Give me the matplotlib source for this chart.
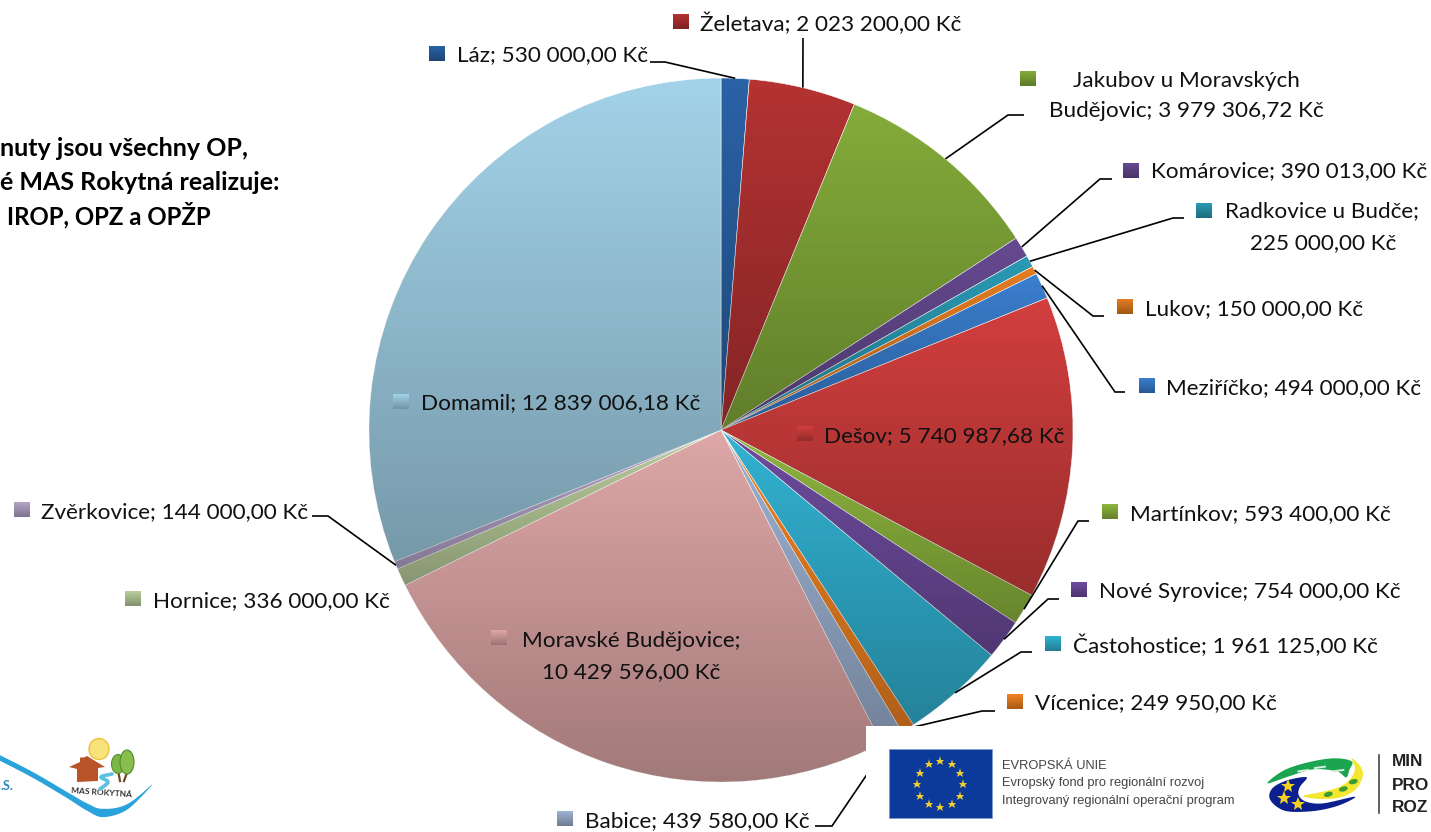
import numpy as np
import matplotlib
matplotlib.use("Agg")
import matplotlib.pyplot as plt
from matplotlib.patches import Rectangle, Circle, Polygon, Ellipse

categories = ["Láz", "Želetava", "Jakubov u Moravských Budějovic", "Komárovice",
              "Radkovice u Budče", "Lukov", "Meziříčko", "Dešov", "Martínkov",
              "Nové Syrovice", "Častohostice", "Vícenice", "Babice",
              "Moravské Budějovice", "Hornice", "Zvěrkovice", "Domamil"]
values = [530000.00, 2023200.00, 3979306.72, 390013.00, 225000.00, 150000.00,
          494000.00, 5740987.68, 593400.00, 754000.00, 1961125.00, 249950.00,
          439580.00, 10429596.00, 336000.00, 144000.00, 12839006.18]
colors = ["#2A62A6", "#B43232", "#84AC3A", "#664A90", "#2A9AB4", "#E47C22",
          "#3A7ECE", "#D23E3E", "#8EB63E", "#6E4C9E", "#32B2D2", "#F08222",
          "#9DB2D2", "#DEA6A6", "#BACE9C", "#B4A4CA", "#A2D2E8"]

W, H = 1431, 832
plt.rcParams['font.family'] = ['Lato', 'DejaVu Sans']
fig = plt.figure(figsize=(W / 100, H / 100), dpi=100, facecolor='white')
ax = fig.add_axes([0, 0, 1, 1])


def Y(y):
    return H - y


def money(v):
    return f"{v:,.2f}".replace(",", " ").replace(".", ",") + " Kč"


cx, cy, R = 721, 430, 352
wedges, _ = ax.pie(values, colors=colors, startangle=90, counterclock=False,
                   center=(cx, Y(cy)), radius=R, frame=True,
                   wedgeprops=dict(edgecolor='white', linewidth=0.4))
ax.set_xlim(0, W)
ax.set_ylim(0, H)
ax.axis('off')

grad = np.zeros((64, 1, 4))
grad[..., 3] = np.linspace(0.0, 0.27, 64)[:, None]
for w in wedges:
    b = w.get_path().get_extents(w.get_patch_transform())
    im = ax.imshow(grad, extent=(b.x0, b.x1, b.y0, b.y1), origin='upper',
                   aspect='auto', zorder=w.get_zorder() + 0.1, interpolation='bilinear')
    im.set_clip_path(w)

# label layout: key left, key top, [(text, x, y, ha)], leader (elbow x, elbow y, end x)
layout = {
    "Láz": (429, 46, [(None, 457, 54, 'left')], (665, 62, 650)),
    "Želetava": (673, 14, [(None, 700, 23, 'left')], (803, 38, 803)),
    "Jakubov u Moravských Budějovic": (1020, 71, [("Jakubov u Moravských", 1186, 80, 'center'),
                                                  ("Budějovic; {}", 1186, 110, 'center')], (1008, 115, 1024)),
    "Komárovice": (1123, 163, [(None, 1151, 170, 'left')], (1100, 179, 1112)),
    "Radkovice u Budče": (1196, 203, [("Radkovice u Budče;", 1225, 210, 'left'),
                                      ("{}", 1323, 242, 'center')], (1173, 218, 1184)),
    "Lukov": (1117, 299, [(None, 1145, 308, 'left')], (1093, 316, 1104)),
    "Meziříčko": (1139, 378, [(None, 1166, 387, 'left')], (1115, 392, 1125)),
    "Dešov": (797, 426, [(None, 824, 435, 'left')], None),
    "Martínkov": (1102, 504, [(None, 1130, 513, 'left')], (1078, 521, 1089)),
    "Nové Syrovice": (1071, 582, [(None, 1099, 591, 'left')], (1048, 599, 1059)),
    "Častohostice": (1045, 636, [(None, 1073, 645, 'left')], (1021, 652, 1032)),
    "Vícenice": (1007, 694, [(None, 1035, 702, 'left')], (982, 711, 995)),
    "Babice": (557, 811, [(None, 585, 820, 'left')], (832, 826, 815)),
    "Moravské Budějovice": (491, 630, [("Moravské Budějovice;", 631, 640, 'center'),
                                       ("{}", 631, 671, 'center')], None),
    "Hornice": (125, 591, [(None, 153, 600, 'left')], None),
    "Zvěrkovice": (14, 502, [(None, 41, 511, 'left')], (328, 516, 312)),
    "Domamil": (393, 394, [(None, 421, 402, 'left')], None),
}

FS = 16.2
key_grad = np.zeros((32, 1, 4))
key_grad[..., 3] = np.linspace(0.0, 0.3, 32)[:, None]
for name, val, col, w in zip(categories, values, colors, wedges):
    kx, ky, texts, leader = layout[name]
    ax.add_patch(Rectangle((kx, Y(ky + 15)), 16, 15, facecolor=col, edgecolor='none', zorder=6))
    ax.imshow(key_grad, extent=(kx, kx + 16, Y(ky + 15), Y(ky)), origin='upper',
              aspect='auto', zorder=6.1)
    for t, x, y, ha in texts:
        s = f"{name}; {money(val)}" if t is None else t.format(money(val))
        ax.text(x, Y(y + 1), s, ha=ha, va='center', fontsize=FS, color='#111111', zorder=7)
    if leader:
        mid = np.deg2rad((w.theta1 + w.theta2) / 2)
        sx, sy = cx + R * np.cos(mid), Y(cy) + R * np.sin(mid)
        ex, ey, endx = leader
        ax.plot([sx, ex, endx], [sy, Y(ey), Y(ey)], color='black', lw=1.2, zorder=5,
                solid_capstyle='butt', solid_joinstyle='miter')

ax.set_xlim(0, W)
ax.set_ylim(0, H)

# note at left, cut by the page edge
for s, x, y, fs in [("nuty jsou všechny OP,", 0, 148, 18.0), ("é MAS Rokytná realizuje:", 0, 182, 18.0),
                    ("IROP, OPZ a OPŽP", 7, 215, 17.3)]:
    ax.text(x, Y(y), s, ha='left', va='center', fontsize=fs, fontweight='bold', color='black')


def smooth(pts, closed=True, n=10):
    p = np.array(pts, float)
    m = len(p)
    out = []
    rng = range(m) if closed else range(m - 1)
    for i in rng:
        if closed:
            p0, p1, p2, p3 = p[(i - 1) % m], p[i], p[(i + 1) % m], p[(i + 2) % m]
        else:
            p0, p1, p2, p3 = p[max(i - 1, 0)], p[i], p[i + 1], p[min(i + 2, m - 1)]
        for t in np.linspace(0, 1, n, endpoint=False):
            out.append(0.5 * (2 * p1 + (p2 - p0) * t + (2 * p0 - 5 * p1 + 4 * p2 - p3) * t ** 2
                              + (3 * p1 - p0 - 3 * p2 + p3) * t ** 3))
    if not closed:
        out.append(p[-1])
    return np.array(out)


def poly(pts, color, z=10):
    ax.add_patch(Polygon([(x, Y(y)) for x, y in pts], closed=True, facecolor=color,
                         edgecolor='none', zorder=z))


def mmr(pts):
    return smooth([(1240 + x / 3, 740 + y / 3) for x, y in pts])


# logo panel, lower right
ax.add_patch(Rectangle((866, 0), W - 866, H - 726, facecolor='white', edgecolor='none', zorder=8))
ax.add_patch(Rectangle((889, Y(818)), 103, 69, facecolor='#0B3A9B', edgecolor='#7F9BD0', lw=0.6, zorder=9))
star_cx, star_cy, star_r = 940, 784, 23
for k in range(12):
    a = np.deg2rad(30 * k)
    ax.plot(star_cx + star_r * np.sin(a), Y(star_cy) + star_r * np.cos(a), marker='*',
            ms=6.5, color='#F0D030', mew=0, zorder=10, ls='none')
for s, y in [("EVROPSKÁ UNIE", 766), ("Evropský fond pro regionální rozvoj", 783),
             ("Integrovaný regionální operační program", 801)]:
    ax.text(1002, Y(y), s, fontsize=9.3, family='Liberation Sans', color='#444444',
            va='center', ha='left', zorder=10)

poly(mmr([(82, 130), (130, 92), (200, 68), (280, 55), (335, 64), (328, 90), (318, 112),
          (290, 94), (220, 88), (150, 108)]), '#1BA551')
poly(mmr([(88, 172), (100, 142), (145, 120), (200, 112), (180, 140), (176, 165), (198, 185),
          (250, 190), (345, 170), (300, 195), (230, 212), (150, 215), (110, 200)]), '#0C1F8E')
poly(mmr([(335, 55), (362, 80), (368, 110), (345, 150), (300, 172), (240, 177), (190, 168),
          (250, 155), (300, 140), (332, 115), (345, 85)]), '#F2E62E', 11)
for x, y in [(190, 92), (240, 82), (295, 92)]:
    ax.plot([1240 + (x - 15) / 3, 1240 + (x + 15) / 3], [Y(740 + (y + 2) / 3), Y(740 + (y - 2) / 3)],
            color='#D8EFDC', lw=1.4, zorder=11)
for x, y in [(265, 163), (310, 147), (340, 125)]:
    ax.add_patch(Ellipse((1240 + x / 3, Y(740 + y / 3)), 9, 5, angle=15, facecolor='#3D9B35',
                         edgecolor='none', zorder=12))
for x, y in [(145, 138), (132, 175), (173, 193)]:
    ax.plot(1240 + x / 3, Y(740 + y / 3), marker='*', ms=10, color='#F5D21F', mew=0, zorder=12, ls='none')
ax.plot([1379, 1379], [Y(755), Y(813)], color='#444444', lw=1.2, zorder=10)
for s, y in [("MIN", 762), ("PRO", 785), ("ROZ", 808)]:
    ax.text(1392, Y(y), s, fontsize=12.4, family='Liberation Sans', fontweight='bold',
            color='#222222', va='center', ha='left', zorder=10)

# logo, lower left
wave = smooth([(0, 758), (33, 775), (67, 795), (87, 807), (103, 813), (127, 807), (152, 785)], closed=False)
hw = np.interp(wave[:, 0], [0, 67, 103, 127, 152], [2.8, 3, 4.2, 2.8, 0.4])
poly(list(zip(wave[:, 0], wave[:, 1] - hw)) + list(zip(wave[::-1, 0], (wave[:, 1] + hw)[::-1])), '#2AA3DC', 3)
ax.text(0, Y(786), ".S.", fontsize=9, fontweight='bold', color='#2E86C1', ha='left', va='center')
ax.add_patch(Ellipse((99, Y(749)), 20, 21, facecolor='#F8E27A', edgecolor='#F0C040', lw=1.0, zorder=3))
poly([(69, 767), (80, 762), (80, 757.5), (84, 757.5), (87, 756), (105, 767), (98, 768), (98, 781),
      (77, 782), (77, 769)], '#B9532A', 4)
ax.plot([118, 120], [Y(770), Y(781)], color='#6B4A24', lw=1.6, zorder=4)
ax.plot([128, 124], [Y(770), Y(781)], color='#6B4A24', lw=1.6, zorder=4)
ax.add_patch(Ellipse((118, Y(764)), 13, 19, facecolor='#7CB644', edgecolor='#5A9030', lw=0.8, zorder=5))
ax.add_patch(Ellipse((127, Y(762)), 14, 24, facecolor='#8ABE4C', edgecolor='#4F8A2C', lw=0.8, zorder=5))
ax.text(102, Y(793), "MAS ROKYTNÁ", fontsize=6, fontweight='bold', color='#333333',
        ha='center', va='center', rotation=-4)
river = smooth([(112, 774), (101, 777), (108, 782), (100, 789)], closed=False)
ax.plot(river[:, 0], Y(river[:, 1]), color='#5CC0E0', lw=2.6, zorder=4, solid_capstyle='round')

fig.savefig("out.png", dpi=100)
